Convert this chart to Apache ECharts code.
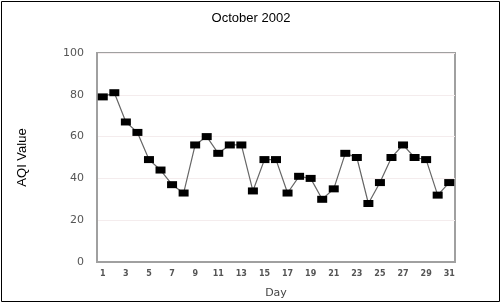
<!DOCTYPE html>
<html>
<head>
<meta charset="utf-8">
<script src="https://cdn.jsdelivr.net/npm/echarts@6/dist/echarts.min.js"></script>
<style>
  html, body { margin: 0; padding: 0; background: #fff; }
  #chart { width: 502px; height: 305px; }
</style>
</head>
<body>
<div id="chart"></div>
<script>
// daily AQI, October 2002
var days = [];
for (var d = 1; d <= 31; d++) days.push(String(d));
var aqiValues = [79, 81, 67, 62, 49, 44, 37, 33, 56, 60, 52, 56, 56, 34, 49, 49,
                 33, 41, 40, 30, 35, 52, 50, 28, 38, 50, 56, 50, 49, 32, 38];
var yTicks = [0, 20, 40, 60, 80, 100];

var chart = echarts.init(document.getElementById('chart'));
chart.setOption({
  animation: false,
  title: {
    text: 'October 2002',
    left: 246, top: 7, textAlign: 'center',
    textStyle: { fontFamily: 'Liberation Sans', fontSize: 13, fontWeight: 'normal', color: '#000' }
  },
  graphic: [{
    type: 'rect',
    shape: { x: 1.5, y: 1.5, width: 498, height: 300 },
    style: { fill: 'none', stroke: '#000', lineWidth: 1 }
  }],
  grid: { left: 97, right: 47, top: 53, bottom: 43, show: true, borderColor: '#a0a0a0', borderWidth: 2 },
  xAxis: {
    type: 'category',
    data: days,
    name: 'Day',
    nameLocation: 'middle',
    nameGap: 26,
    nameTextStyle: { fontFamily: 'DejaVu Sans', fontSize: 11, color: '#444' },
    axisLine: { lineStyle: { color: '#a0a0a0', width: 2 } },
    axisTick: { show: false },
    axisLabel: { interval: 1, margin: 8, fontFamily: 'DejaVu Sans', fontSize: 8, fontWeight: 'bold', color: '#555' }
  },
  yAxis: {
    type: 'value',
    min: yTicks[0], max: yTicks[yTicks.length - 1], interval: 20,
    name: 'AQI Value',
    nameLocation: 'middle',
    nameGap: 68,
    nameTextStyle: { fontFamily: 'Liberation Sans', fontSize: 13, color: '#000' },
    axisLine: { show: true, lineStyle: { color: '#a0a0a0', width: 2 } },
    axisTick: { show: false },
    axisLabel: { margin: 13, fontFamily: 'DejaVu Sans', fontSize: 11, color: '#555' },
    splitLine: { lineStyle: { color: '#f4eced', width: 1 } }
  },
  series: [{
    type: 'line',
    data: aqiValues,
    symbol: 'rect',
    symbolSize: [10, 7],
    itemStyle: { color: '#000' },
    lineStyle: { color: '#666', width: 1.2 }
  }]
});
</script>
</body>
</html>
